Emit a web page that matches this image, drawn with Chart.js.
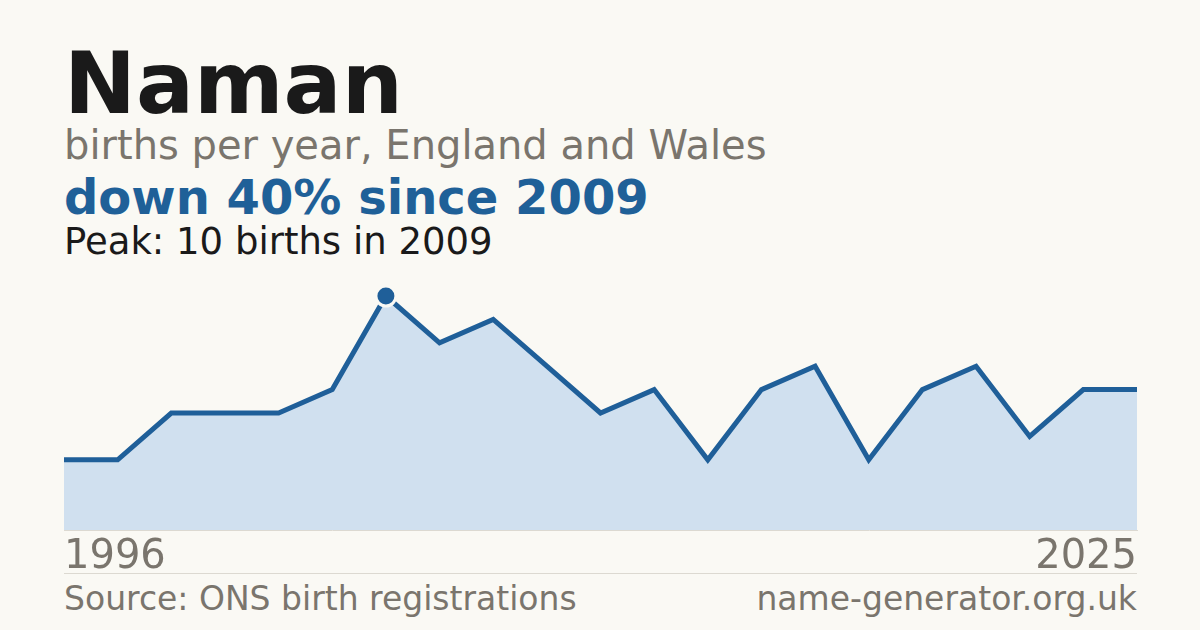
<!DOCTYPE html>
<html>
<head>
<meta charset="utf-8">
<script src="https://cdn.jsdelivr.net/npm/chart.js@4.4.1/dist/chart.umd.min.js"></script>
<style>
  html, body { margin: 0; padding: 0; }
  body {
    width: 1200px; height: 630px; overflow: hidden;
    background: #faf9f4;
    font-family: "DejaVu Sans", sans-serif;
    position: relative;
  }
  .t { position: absolute; left: 64px; white-space: nowrap; line-height: 1; }
  #name { top: 40px; font-size: 86px; font-weight: bold; color: #1a1a1a; }
  #sub { top: 125px; font-size: 40px; color: #7a756d; }
  #trend { top: 173px; font-size: 48px; font-weight: bold; color: #1f6098; }
  #peak { top: 223px; font-size: 37px; color: #1a1a1a; }
  #rule { position: absolute; left: 64px; top: 573px; width: 1073px; height: 1px; background: #dcd9d1; }
  #source { top: 582px; font-size: 33px; color: #7a756d; }
  #site { top: 582px; left: auto; right: 63px; font-size: 33px; color: #7a756d; }
  #wrap { position: absolute; left: 44px; top: 270px; width: 1113px; height: 316px; }
</style>
</head>
<body>
<div class="t" id="name">Naman</div>
<div class="t" id="sub">births per year, England and Wales</div>
<div class="t" id="trend">down 40% since 2009</div>
<div class="t" id="peak">Peak: 10 births in 2009</div>
<div id="rule"></div>
<div class="t" id="source">Source: ONS birth registrations</div>
<div class="t" id="site">name-generator.org.uk</div>
<div id="wrap"><canvas id="myChart"></canvas></div>

<script>
// years with recorded births (first and last shown on the axis)
const years = [1996, 1998, 2001, 2003, 2005, 2007, 2009, 2010, 2011, 2012, 2014,
               2015, 2016, 2017, 2018, 2019, 2020, 2021, 2022, 2024, 2025];
const births = [3, 3, 5, 5, 5, 6, 10, 8, 9, 7, 5, 6, 3, 6, 7, 3, 6, 7, 4, 6, 6];
const tickLabels = ['1996', '2025'];

const peakIndex = births.indexOf(Math.max(...births));
const blue = '#1f5f99';

var ctx = document.getElementById('myChart').getContext('2d');

var myChart = new Chart(ctx, {
    type: 'line',
    data: {
        labels: years.map(String),
        datasets: [{
            data: births,
            borderColor: blue,
            borderWidth: 5,
            backgroundColor: '#d0e0ef',
            fill: 'origin',
            tension: 0,
            clip: false,
            pointRadius: (c) => c.dataIndex === peakIndex ? 10 : 0,
            pointHoverRadius: 0,
            pointBackgroundColor: blue,
            pointBorderColor: '#faf9f4',
            pointBorderWidth: 3
        }]
    },
    options: {
        responsive: true,
        maintainAspectRatio: false,
        animation: false,
        events: [],
        layout: { padding: { left: 20, right: 20, top: 26, bottom: 0 } },
        plugins: { legend: { display: false }, tooltip: { enabled: false } },
        scales: {
            x: {
                grid: { display: false, drawTicks: false },
                border: { display: true, color: '#dcd9d1', width: 1 },
                ticks: {
                    autoSkip: false,
                    maxRotation: 0,
                    align: 'inner',
                    padding: 4,
                    color: '#7a756d',
                    font: { family: 'DejaVu Sans', size: 40 },
                    callback: function (value, index) {
                        const lab = this.getLabelForValue(value);
                        return tickLabels.includes(lab) ? lab : '';
                    }
                }
            },
            y: {
                display: false,
                min: 0,
                max: 10
            }
        }
    }
});
</script>
</body>
</html>
